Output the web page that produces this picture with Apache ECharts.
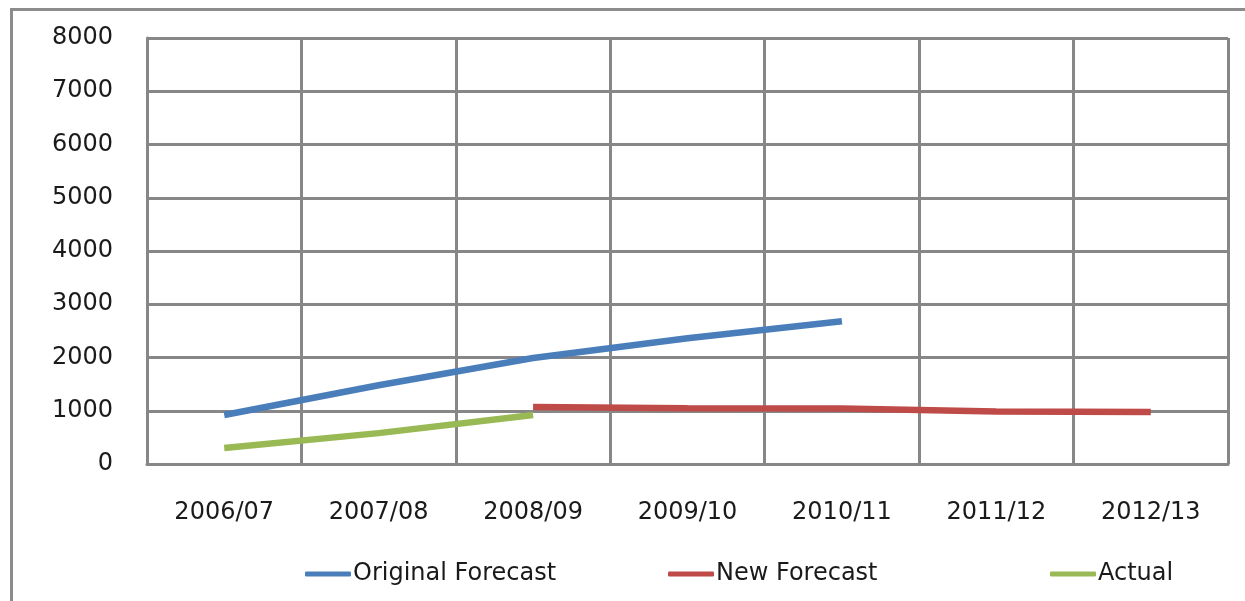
<!DOCTYPE html>
<html>
<head>
<meta charset="utf-8">
<script src="https://cdn.jsdelivr.net/npm/echarts@6/dist/echarts.min.js"></script>
<style>
html,body{margin:0;padding:0;background:#fff;}
#c{width:1245px;height:601px;}
</style>
</head>
<body>
<div id="c"></div>
<script>
const categories = ['2006/07','2007/08','2008/09','2009/10','2010/11','2011/12','2012/13'];
const originalForecast = [920, 1480, 1990, 2360, 2680, null, null];
const newForecast = [null, null, 1070, 1045, 1040, 985, 975];
const actual = [300, 580, 920, null, null, null, null];
const yTicks = {min: 0, max: 8000, interval: 1000};

const gridColor = '#878787';
const font = 'DejaVu Sans';
const chart = echarts.init(document.getElementById('c'));
function leg(name, left) {
  return {
    data: [name], left: left, top: 557, icon: 'roundRect',
    itemWidth: 46, itemHeight: 5, itemGap: 0,
    textStyle: {fontFamily: font, fontSize: 24, color: '#1a1a1a', padding: [0,0,0,-3]}
  };
}
chart.setOption({
  animation: false,
  backgroundColor: '#fff',
  graphic: [{
    type: 'rect', left: 9, top: 7, silent: true,
    shape: {width: 1260, height: 620},
    style: {fill: null, stroke: '#8c8c8c', lineWidth: 3}
  }],
  grid: {left: 147, right: 17, top: 38, bottom: 137},
  legend: [leg('Original Forecast', 300), leg('New Forecast', 663), leg('Actual', 1045)],
  xAxis: {
    type: 'category', data: categories, boundaryGap: true,
    axisLine: {lineStyle: {color: gridColor, width: 3}},
    axisTick: {show: false},
    splitLine: {show: true, interval: 0, lineStyle: {color: gridColor, width: 3}},
    axisLabel: {interval: 0, margin: 37, fontFamily: font, fontSize: 24, color: '#1a1a1a'}
  },
  yAxis: {
    type: 'value', min: yTicks.min, max: yTicks.max, interval: yTicks.interval,
    axisLine: {show: true, lineStyle: {color: gridColor, width: 3}},
    axisTick: {show: false},
    splitLine: {show: true, lineStyle: {color: gridColor, width: 3}},
    axisLabel: {margin: 34, fontFamily: font, fontSize: 24, color: '#1a1a1a',
      formatter: function (v) { return String(v); }}
  },
  series: [
    {name: 'Original Forecast', type: 'line', data: originalForecast, showSymbol: false,
     lineStyle: {width: 6.5, color: '#4a7ebb'}, itemStyle: {color: '#4a7ebb'}},
    {name: 'New Forecast', type: 'line', data: newForecast, showSymbol: false,
     lineStyle: {width: 6.5, color: '#be4b48'}, itemStyle: {color: '#be4b48'}},
    {name: 'Actual', type: 'line', data: actual, showSymbol: false,
     lineStyle: {width: 6.5, color: '#98b954'}, itemStyle: {color: '#98b954'}}
  ]
});
</script>
</body>
</html>
